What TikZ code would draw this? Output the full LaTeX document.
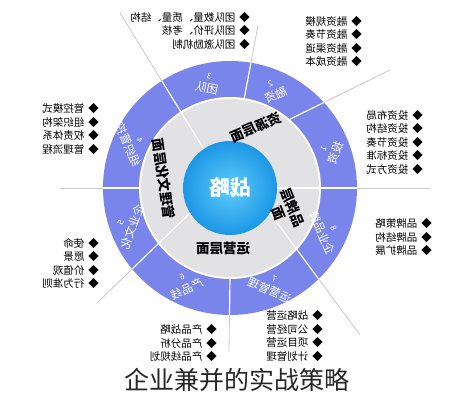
\documentclass[tikz,border=0pt]{standalone}
\usepackage{fontspec}
\setmainfont{Noto Sans CJK SC}
\definecolor{ringblue}{RGB}{121,133,234}
\definecolor{ringgray}{RGB}{226,226,229}
\definecolor{coreblue}{RGB}{28,150,230}
\definecolor{corelight}{RGB}{95,205,250}
\definecolor{spokegray}{RGB}{200,200,200}

\begin{document}
\begin{tikzpicture}[x=1pt,y=1pt,
  mirror/.style={xscale=-1,inner sep=0pt},
  seglabel/.style={mirror,white,align=center,font=\fontsize{11.5}{14}\selectfont},
  layer/.style={mirror,black,align=center,font=\fontsize{13.5}{15}\selectfont\bfseries},
  bullets/.style={mirror,anchor=west,align=left,font=\fontsize{10.5}{13.5}\selectfont}]
  \useasboundingbox[fill=white] (0,0) rectangle (476,400);
  \begin{scope}[shift={(230,212)}]
    \foreach \s/\e in {{(0:47)}/{(200,0)},{(49:91)}/{(160,118)},{(81:89)}/{(28,163)},
      {(124:47)}/{(-110,175)},{(180:89)}/{(-170,0)},{(212:47)}/{(-132,-114)},
      {(270:89)}/{(-1,-164)},{(-32:47)}/{(130,-147)}}
      \draw[spokegray,line width=0.8pt] \s -- \e;
    \fill[ringblue] (0,0) circle (127);
    \fill[white] (0,0) circle (91);
    \fill[ringgray] (0,0) circle (89);
    \shade[inner color=corelight,outer color=coreblue] (0,0) circle (47);
    \begin{scope}
      \clip (0,0) circle (127);
      \foreach \s/\e in {{(0:47)}/{(200,0)},{(49:91)}/{(160,118)},{(81:89)}/{(28,163)},
        {(124:47)}/{(-110,175)},{(180:89)}/{(-170,0)},{(212:47)}/{(-132,-114)},
        {(270:89)}/{(-1,-164)},{(-32:47)}/{(130,-147)}}
        \draw[white,line width=1.2pt] \s -- \e;
    \end{scope}

    \node[mirror,white,font=\fontsize{21}{23}\selectfont\bfseries] (core) at (0,0) {战略};

    \node[layer,rotate=-23] (resource) at (67:66) {资源层面};
    \node[layer,rotate=82] (culture) at (172:67) {管理文化层面};
    \node[layer] (operation) at (-7,-60) {运营层面};
    \node[layer,rotate=68] (brand) at (-22:60) {品牌层\\面};

    \node[seglabel,rotate=-70] (seg1) at (20:107) {{\footnotesize 1}\\投资};
    \node[seglabel,rotate=-24] (seg2) at (66:107) {{\footnotesize 2}\\融资};
    \node[seglabel,rotate=12] (seg3) at (102:107) {{\footnotesize 3}\\团队};
    \node[seglabel,rotate=67] (seg4) at (155:107) {{\footnotesize 4}\\组织管控};
    \node[seglabel,rotate=-70] (seg5) at (200:109) {{\footnotesize 5}\\企业文化};
    \node[seglabel,rotate=-25] (seg6) at (245:106) {{\footnotesize 6}\\产品线};
    \node[seglabel,rotate=23] (seg7) at (293:106) {{\footnotesize 7}\\运营管理};
    \node[seglabel,rotate=66] (seg8) at (336:106) {{\footnotesize 8}\\企业品牌};

    \node[bullets] (team) at (20,157) {◆\hspace{4pt}团队数量、质量、结构\\◆\hspace{4pt}团队评价、考核\\◆\hspace{4pt}团队激励机制};
    \node[bullets] (finance) at (132,146.5) {◆\hspace{4pt}融资规模\\◆\hspace{4pt}融资节奏\\◆\hspace{4pt}融资渠道\\◆\hspace{4pt}融资成本};
    \node[bullets] (invest) at (193,45.5) {◆\hspace{4pt}投资布局\\◆\hspace{4pt}投资结构\\◆\hspace{4pt}投资节奏\\◆\hspace{4pt}投资标准\\◆\hspace{4pt}投资方式};
    \node[bullets] (control) at (-131,59) {◆\hspace{4pt}管控模式\\◆\hspace{4pt}组织架构\\◆\hspace{4pt}权责体系\\◆\hspace{4pt}管理流程};
    \node[bullets] (mission) at (-131,-75.5) {◆\hspace{4pt}使命\\◆\hspace{4pt}愿景\\◆\hspace{4pt}价值观\\◆\hspace{4pt}行为准则};
    \node[bullets] (brandlist) at (202,-49.5) {◆\hspace{4pt}品牌策略\\◆\hspace{4pt}品牌结构\\◆\hspace{4pt}品牌扩展};
    \node[bullets] (operlist) at (93,-148) {◆\hspace{4pt}战略运营\\◆\hspace{4pt}公司经营\\◆\hspace{4pt}项目运营\\◆\hspace{4pt}计划管理};
    \node[bullets] (product) at (-13,-155.5) {◆\hspace{4pt}产品战略\\◆\hspace{4pt}产品分析\\◆\hspace{4pt}产品线规划};
  \end{scope}
  \node[font=\fontsize{25}{27}\selectfont,text=black!85] (caption) at (237,20) {企业兼并的实战策略};
\end{tikzpicture}
\end{document}
